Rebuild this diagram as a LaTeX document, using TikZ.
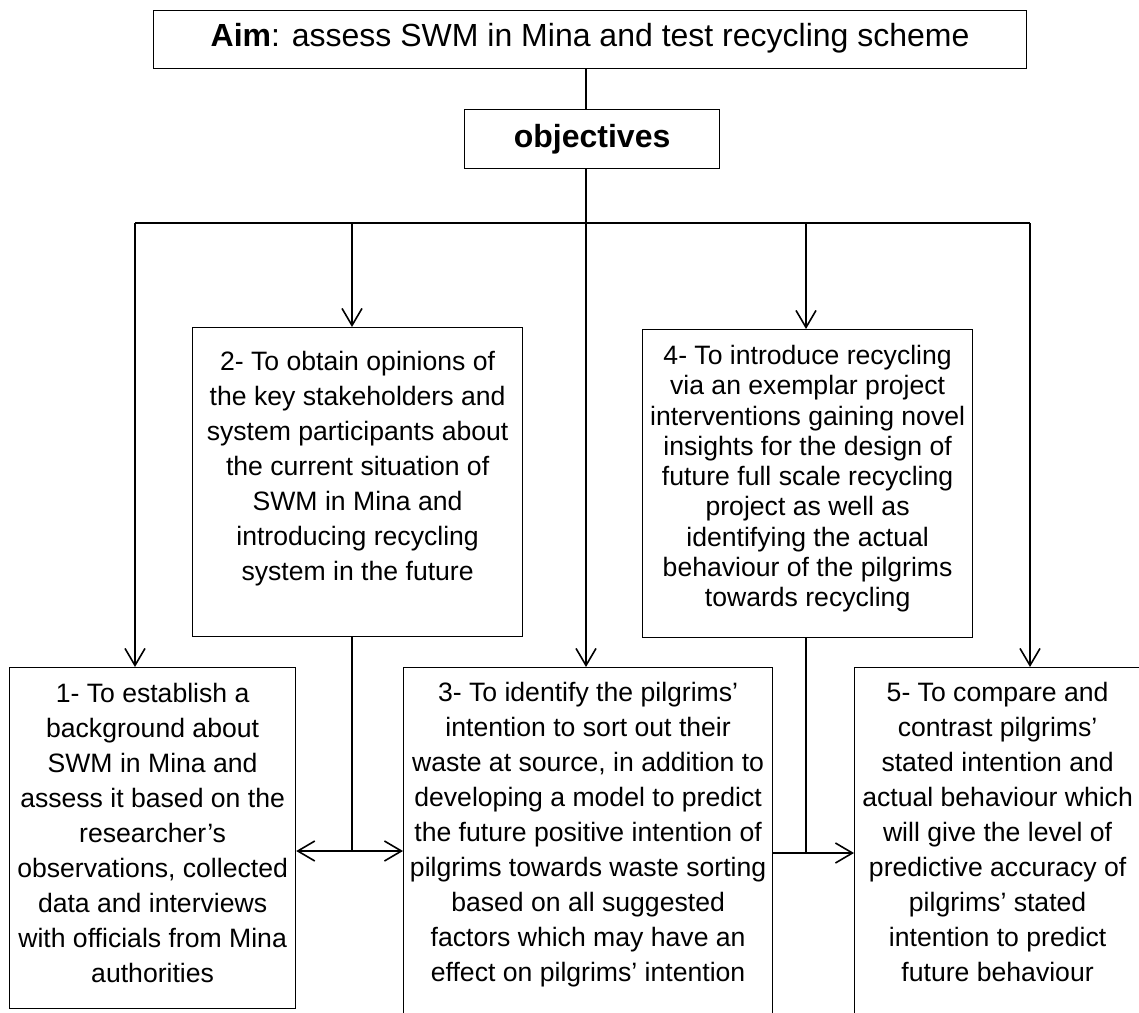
\documentclass[tikz,border=0pt]{standalone}
\usepackage{fontspec}
\setmainfont{Liberation Sans}
\usetikzlibrary{arrows.meta}

\begin{document}
\begin{tikzpicture}[x=1pt,y=-1pt,
  frame/.style={draw=black, line width=1.2pt, inner sep=0pt, anchor=north west},
  body/.style={inner sep=0pt, anchor=north, align=center,
    font=\fontsize{26.6}{35}\selectfont},
  tightbody/.style={body, font=\fontsize{26.6}{30.3}\selectfont},
  head/.style={inner sep=0pt, font=\fontsize{32}{38}\selectfont},
  link/.style={draw=black, line width=1.8pt},
  arr/.style={link, -{Straight Barb[length=17pt,width=20pt,line width=1.6pt]}},
  twoarr/.style={link, {Straight Barb[length=17pt,width=20pt,line width=1.6pt]}-{Straight Barb[length=17pt,width=20pt,line width=1.6pt]}}]

\useasboundingbox (0,0) rectangle (1139,1012);

% aim and objectives
\node[frame, minimum width=873pt, minimum height=58pt] (aim) at (153,10) {};
\node[head] (aimtxt) at ([yshift=1pt]aim.center) {\textbf{Aim}: assess SWM in Mina and test recycling scheme};
\node[frame, minimum width=255pt, minimum height=59pt] (obj) at (464,109) {};
\node[head] (objtxt) at (obj.center) {\textbf{objectives}};

% objective boxes
\node[frame, minimum width=330pt, minimum height=309pt] (b2) at (192,327) {};
\node[frame, minimum width=330pt, minimum height=308pt] (b4) at (642,329) {};
\node[frame, minimum width=286pt, minimum height=341pt] (b1) at (9,667) {};
\node[frame, minimum width=369pt, minimum height=400pt] (b3) at (403,667) {};
\node[frame, minimum width=286pt, minimum height=400pt] (b5) at (854,667) {};

\node[body] (t1) at ([yshift=-16pt]b1.north) {1- To establish a\\background about\\SWM in Mina and\\assess it based on the\\researcher’s\\observations, collected\\data and interviews\\with officials from Mina\\authorities};
\node[body] (t2) at ([yshift=-24pt]b2.north) {2- To obtain opinions of\\the key stakeholders and\\system participants about\\the current situation of\\SWM in Mina and\\introducing recycling\\system in the future};
\node[body] (t3) at ([yshift=-15pt]b3.north) {3- To identify the pilgrims’\\intention to sort out their\\waste at source, in addition to\\developing a model to predict\\the future positive intention of\\pilgrims towards waste sorting\\based on all suggested\\factors which may have an\\effect on pilgrims’ intention};
\node[tightbody] (t4) at ([yshift=-16pt]b4.north) {4- To introduce recycling\\via an exemplar project\\interventions gaining novel\\insights for the design of\\future full scale recycling\\project as well as\\identifying the actual\\behaviour of the pilgrims\\towards recycling};
\node[body] (t5) at ([yshift=-15pt]b5.north) {5- To compare and\\contrast pilgrims’\\stated intention and\\actual behaviour which\\will give the level of\\predictive accuracy of\\pilgrims’ stated\\intention to predict\\future behaviour};

% distribution bus
\coordinate (spine) at (586,223);
\coordinate (busL) at (135,223);
\coordinate (busR) at (1030,223);
\coordinate (a2) at (352,223);
\coordinate (a4) at (806,223);

\draw[link] (aim.south -| spine) -- (obj.north -| spine);
\draw[link] (obj.south -| spine) -- (spine);
\draw[link] (busL) -- (busR);

\draw[arr] (busL) -- (busL |- b1.north);
\draw[arr] (a2) -- (a2 |- b2.north);
\draw[arr] (spine) -- (spine |- b3.north);
\draw[arr] (a4) -- (a4 |- b4.north);
\draw[arr] (busR) -- (busR |- b5.north);

% links between the lower boxes
\coordinate (j2) at (352,851);
\coordinate (j4) at (806,853);
\draw[link] (b2.south -| j2) -- (j2);
\draw[twoarr] (b1.east |- j2) -- (b3.west |- j2);
\draw[link] (b4.south -| j4) -- (j4);
\draw[arr] (b3.east |- j4) -- (b5.west |- j4);

\end{tikzpicture}
\end{document}
